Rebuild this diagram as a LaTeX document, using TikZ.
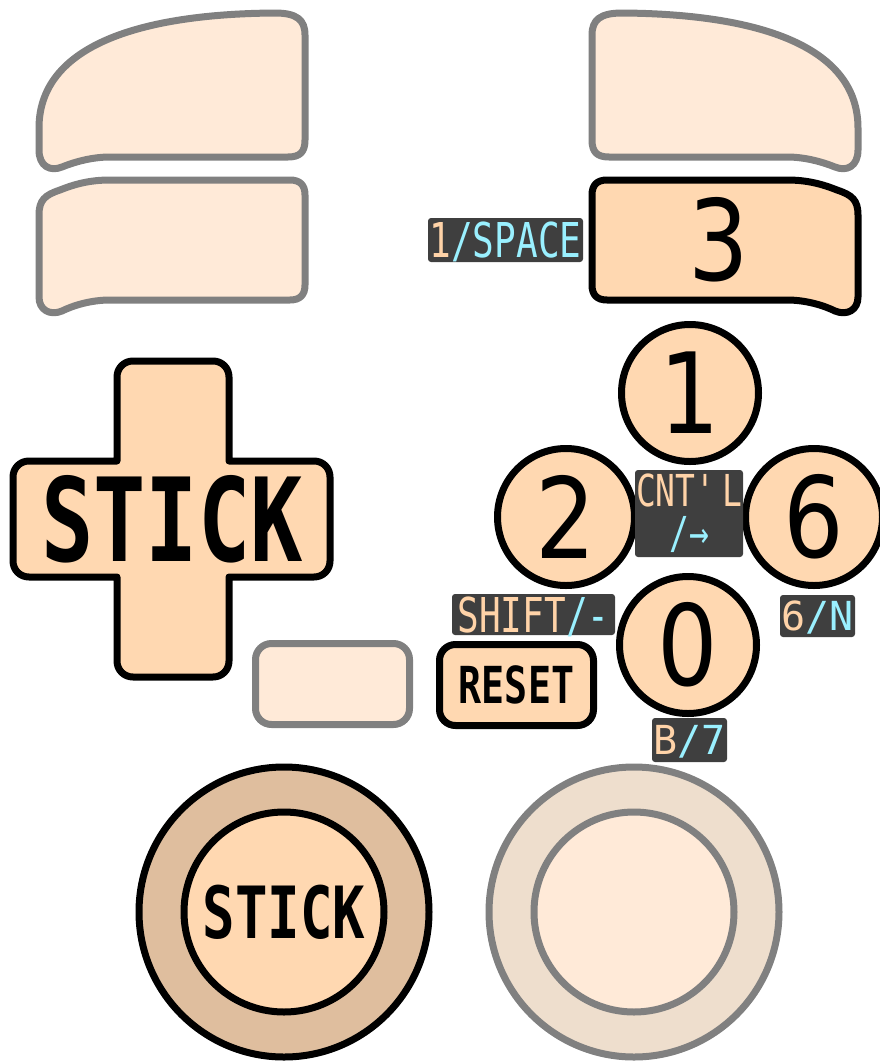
\documentclass[tikz,border=0pt]{standalone}
\usepackage{fontspec}
\newfontfamily\padfont[FakeStretch=0.75]{DejaVu Sans Mono}
\newfontfamily\padwide{DejaVu Sans Mono}
\newfontfamily\digitfont[FakeStretch=0.85]{DejaVu Sans}
\definecolor{PadPeach}{HTML}{FFD8B1}
\definecolor{PadPeachLight}{HTML}{FFEAD8}
\definecolor{PadGray}{HTML}{808080}
\definecolor{PadRingDark}{HTML}{DFBE9E}
\definecolor{PadRingLight}{HTML}{EEDECD}
\definecolor{PadLabelBg}{HTML}{3F3F3F}
\definecolor{PadLabelOrange}{HTML}{FFD3A8}
\definecolor{PadLabelCyan}{HTML}{9AF0FF}

\begin{document}
\begin{tikzpicture}[x=1pt,y=-1pt,line width=7pt,line join=round,
  live/.style={draw=black,fill=PadPeach},
  idle/.style={draw=PadGray,fill=PadPeachLight},
  facekey/.style={live,circle,minimum size=137pt,inner sep=0pt,font=\digitfont\fontsize{112}{112}\selectfont},
  tag/.style={fill=PadLabelBg,rounded corners=3pt,inner sep=0pt,text=PadLabelOrange},
  tagline/.style={tag,text height=#1,text depth=0pt}]
\useasboundingbox (0,0) rectangle (879,1061);
% shoulders
\draw[idle] (39,150) -- (39,128) .. controls (39,50) and (130,14) .. (275,13) .. controls (297,13) and (305,20) .. (305,35) -- (305,140) .. controls (305,152) and (300,157) .. (288,157) -- (110,157) .. controls (90,157) and (72,163) .. (62,167) .. controls (50,172) and (39,166) .. (39,150) -- cycle;
\draw[idle] (39,215) .. controls (39,200) and (45,195) .. (60,190) .. controls (75,184) and (90,180) .. (110,180) -- (290,180) .. controls (300,180) and (305,185) .. (305,195) -- (305,285) .. controls (305,295) and (300,300) .. (290,300) -- (110,300) .. controls (90,300) and (72,306) .. (62,311) .. controls (50,316) and (39,310) .. (39,297) -- cycle;
\draw[idle] (858,150) -- (858,128) .. controls (858,50) and (767,14) .. (622,13) .. controls (600,13) and (592,20) .. (592,35) -- (592,140) .. controls (592,152) and (597,157) .. (609,157) -- (787,157) .. controls (807,157) and (825,163) .. (835,167) .. controls (847,172) and (858,166) .. (858,150) -- cycle;
\draw[live] (858,215) .. controls (858,200) and (852,195) .. (837,190) .. controls (822,184) and (807,180) .. (787,180) -- (607,180) .. controls (597,180) and (592,185) .. (592,195) -- (592,285) .. controls (592,295) and (597,300) .. (607,300) -- (787,300) .. controls (807,300) and (825,306) .. (835,311) .. controls (847,316) and (858,310) .. (858,297) -- cycle;
\node[font=\digitfont\fontsize{112}{112}\selectfont] (key3) at (719,240) {3};
% d-pad
\draw[live] (117,461) -- (117,377) .. controls (117,368) and (124,361) .. (133,361) -- (213,361) .. controls (222,361) and (229,368) .. (229,377) -- (229,461) -- (314,461) .. controls (323,461) and (330,468) .. (330,477) -- (330,561) .. controls (330,570) and (323,577) .. (314,577) -- (229,577) -- (229,661) .. controls (229,670) and (222,677) .. (213,677) -- (133,677) .. controls (124,677) and (117,670) .. (117,661) -- (117,577) -- (29,577) .. controls (20,577) and (13,570) .. (13,561) -- (13,477) .. controls (13,468) and (20,461) .. (29,461) -- cycle;
\node[font=\padfont\bfseries\fontsize{116}{116}\selectfont] (dpad) at (172,519) {STICK};
\node[idle,rounded corners=16pt,minimum width=154pt,minimum height=81pt] (select) at (332.5,684) {};
\node[live,rounded corners=16pt,minimum width=154pt,minimum height=81pt,font=\padfont\bfseries\fontsize{51}{51}\selectfont] (reset) at (516.5,685) {RESET};
% face buttons
\node[facekey] (key1) at (690,393) {1};
\node[facekey] (key2) at (566,517) {2};
\node[facekey] (key6) at (814,517) {6};
\node[facekey] (key0) at (688,645) {0};
% sticks
\node[live,fill=PadRingDark,circle,minimum size=290pt] (lring) at (284,912) {};
\node[live,circle,minimum size=200pt,font=\padfont\bfseries\fontsize{72}{72}\selectfont] (lstick) at (lring) {STICK};
\node[idle,fill=PadRingLight,circle,minimum size=290pt] (rring) at (634,912) {};
\node[idle,circle,minimum size=200pt] (rstick) at (rring) {};
% labels
\node[tagline=35pt,minimum width=155pt,minimum height=44pt,font=\padfont\fontsize{48}{48}\selectfont] (spacetag) at (505.5,240) {1\textcolor{PadLabelCyan}{/SPACE}};
\node[tag,align=center,minimum width=108pt,minimum height=87pt,font=\padfont\fontsize{44}{42}\selectfont] (cntltag) at (689,513.5) {CNT\textquotesingle L\\\textcolor{PadLabelCyan}{/→}};
\node[tagline=35pt,minimum width=163pt,minimum height=41pt,font=\padfont\fontsize{48}{48}\selectfont] (shifttag) at (533.5,614.5) {SHIFT\textcolor{PadLabelCyan}{/-}};
\node[tagline=29pt,minimum width=75pt,minimum height=42pt,font=\padwide\fontsize{40}{40}\selectfont] (ntag) at (817.5,616) {6\textcolor{PadLabelCyan}{/N}};
\node[tagline=29pt,minimum width=75pt,minimum height=44pt,font=\padwide\fontsize{40}{40}\selectfont] (btag) at (689.5,740) {B\textcolor{PadLabelCyan}{/7}};
\end{tikzpicture}
\end{document}
